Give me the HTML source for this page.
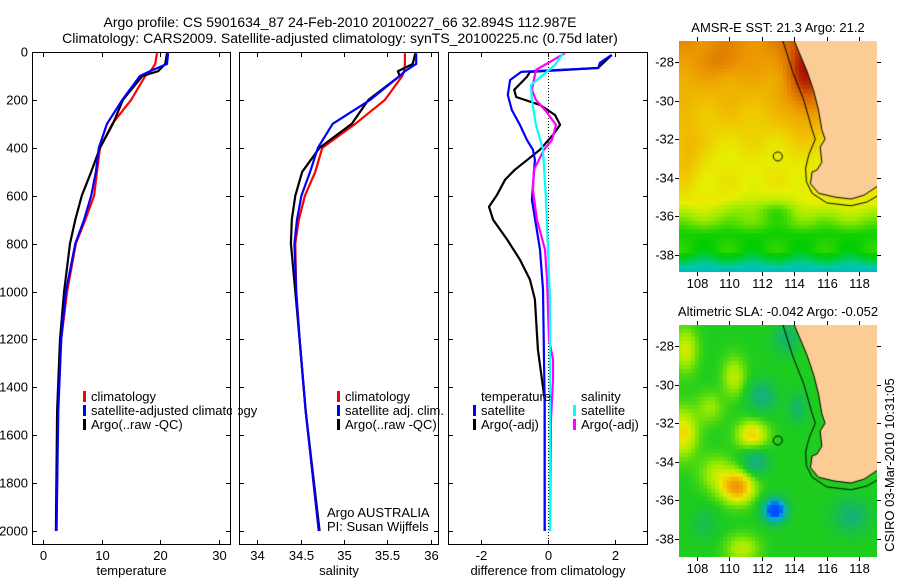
<!DOCTYPE html>
<html><head><meta charset="utf-8">
<style>
html,body{margin:0;padding:0;background:#fff;}
body{width:900px;height:580px;position:relative;overflow:hidden;font-family:"Liberation Sans",sans-serif;}
svg text{font-family:"Liberation Sans",sans-serif;font-size:13px;fill:#000;}
canvas{position:absolute;}
</style></head><body>
<svg id="fig" width="900" height="580" style="position:absolute;left:0;top:0">
<text x="340" y="27" text-anchor="middle" style="font-size:14px">Argo profile: CS 5901634_87 24-Feb-2010 20100227_66 32.894S 112.987E</text>
<text x="340" y="43" text-anchor="middle" style="font-size:14px">Climatology: CARS2009. Satellite-adjusted climatology: synTS_20100225.nc (0.75d later)</text>
<text x="778" y="32" text-anchor="middle">AMSR-E SST: 21.3 Argo: 21.2</text>
<text x="778" y="316" text-anchor="middle">Altimetric SLA: -0.042 Argo: -0.052</text>
<text transform="translate(894,465) rotate(-90)" text-anchor="middle">CSIRO 03-Mar-2010 10:31:05</text>
<text x="327" y="517">Argo AUSTRALIA</text>
<text x="327" y="531">PI: Susan Wijffels</text>
</svg>
<canvas id="c1" width="198" height="231" style="left:679px;top:41px"></canvas>
<canvas id="c2" width="198" height="232" style="left:679px;top:325px"></canvas>
<script>
// ---- profile data ----
const depths=[5,50,80,100,200,300,400,500,600,700,800,1000,1200,1500,2000];
const tempClim=[19.4,19.1,18.3,17.4,15.0,11.8,9.7,9.2,8.7,7.2,5.6,4.1,3.1,2.5,2.3];
const tempSat=[21.3,21.1,18.2,16.5,13.5,10.9,9.5,9.0,8.2,7.0,5.5,3.9,3.1,2.6,2.3];
const tempArgo=[21.1,20.8,19.6,16.9,13.6,11.9,9.7,8.2,6.6,5.5,4.6,3.6,2.9,2.4,2.2];
const salClim=[35.70,35.70,35.69,35.67,35.47,35.13,34.75,34.67,34.55,34.48,34.44,34.45,34.49,34.56,34.71];
const salSat=[35.83,35.83,35.70,35.64,35.30,34.87,34.70,34.61,34.51,34.46,34.43,34.45,34.49,34.56,34.71];
const salArgo=[35.82,35.79,35.62,35.64,35.28,35.09,34.72,34.52,34.44,34.40,34.39,34.44,34.49,34.56,34.72];
const dTSatDepth=[12,45,67,83,117,179,242,304,367,408,450,617,825,992,1450,2000];
const dTSat=[1.9,1.55,1.5,-0.8,-1.13,-1.2,-1.08,-0.84,-0.63,-0.45,-0.39,-0.48,-0.24,-0.15,-0.1,-0.1];
const dTArgoDepth=[12,67,83,104,158,188,221,263,304,346,408,492,533,596,646,700,783,867,950,1033,1242,1450,2000];
const dTArgo=[1.9,1.49,-0.54,-0.63,-1.01,-0.95,-0.24,0.21,0.36,0.15,-0.24,-0.99,-1.28,-1.52,-1.76,-1.64,-1.22,-0.84,-0.54,-0.39,-0.3,-0.1,-0.1];
const dSSatDepth=[5,54,138,200,304,408,617,825,1033,1450,2000];
const dSSat=[0.45,0.21,-0.51,-0.48,-0.36,-0.15,-0.06,0,0.06,0.06,0.06];
const dSArgoDepth=[5,75,158,200,242,304,367,408,492,575,700,825,950,1200,1283,1367,1533,2000];
const dSArgo=[0.51,-0.36,-0.48,-0.36,-0.09,0.24,0.12,-0.12,-0.42,-0.45,-0.33,-0.09,-0.03,0.03,0.15,0.15,0.09,0.06];
const depthTicks=[0,200,400,600,800,1000,1200,1400,1600,1800,2000];
const tempTicks=[0,10,20,30];
const salTicks=[34,34.5,35,35.5,36];
const diffTicks=[-2,0,2];

const NS='http://www.w3.org/2000/svg';
const svg=document.getElementById('fig');
function mk(tag,attrs,parent){const e=document.createElementNS(NS,tag);for(const k in attrs)e.setAttribute(k,attrs[k]);(parent||svg).appendChild(e);return e;}
const yTop=52,yBot=545;
function yD(d){return yTop+d*0.2395;}
const panels=[
 {name:'temperature',x0:32,x1:231,v0:-1.87,v1:32.0,ticks:tempTicks,label:'temperature',ylab:true},
 {name:'salinity',x0:239,x1:439,v0:33.793,v1:36.092,ticks:salTicks,label:'salinity'},
 {name:'difference',x0:448,x1:648,v0:-2.985,v1:2.985,ticks:diffTicks,label:'difference from climatology'}];
panels.forEach(p=>{
 p.sx=v=>p.x0+(v-p.v0)/(p.v1-p.v0)*(p.x1-p.x0);
 const g=mk('g',{});
 
 
 const r=mk('rect',{x:p.x0+.5,y:yTop+.5,width:p.x1-p.x0-1,height:yBot-yTop-1,fill:'none',stroke:'#000','stroke-width':1},g);
 
 
 p.ticks.forEach(t=>{const x=Math.round(p.sx(t))+.5;
  mk('line',{x1:x,x2:x,y1:yBot,y2:yBot-5,stroke:'#000'},g);
  mk('line',{x1:x,x2:x,y1:yTop,y2:yTop+5,stroke:'#000'},g);
  const tx=mk('text',{x:x,y:yBot+15,'text-anchor':'middle'},g);tx.textContent=t;
  
  });
 depthTicks.forEach(d=>{const y=Math.round(yD(d))+.5;
  mk('line',{x1:p.x0,x2:p.x0+5,y1:y,y2:y,stroke:'#000'},g);
  mk('line',{x1:p.x1-5,x2:p.x1,y1:y,y2:y,stroke:'#000'},g);
  if(p.ylab){const tx=mk('text',{x:p.x0-4,y:y+4,'text-anchor':'end'},g);tx.textContent=d;
   
   }});
 const xl=mk('text',{x:(p.x0+p.x1)/2,y:575,'text-anchor':'middle'},g);xl.textContent=p.label;
 
 
});
{const x=Math.round(panels[2].sx(0))+.5;const l=mk('line',{x1:x,x2:x,y1:yTop,y2:yBot,stroke:'#000','stroke-dasharray':'1,2'});
 
 }
function line(p,ds,vs,col,name){
 const pts=ds.map((d,i)=>p.sx(vs[i]).toFixed(1)+','+yD(d).toFixed(1)).join(' ');
 const pl=mk('polyline',{points:pts,fill:'none',stroke:col,'stroke-width':2.2,'stroke-linejoin':'round'});
 
 }
line(panels[0],depths,tempClim,'#f00','temp-climatology-line');
line(panels[0],depths,tempArgo,'#000','temp-argo-line');
line(panels[0],depths,tempSat,'#00f','temp-satellite-line');
line(panels[1],depths,salClim,'#f00','sal-climatology-line');
line(panels[1],depths,salArgo,'#000','sal-argo-line');
line(panels[1],depths,salSat,'#00f','sal-satellite-line');
line(panels[2],dTArgoDepth,dTArgo,'#000','diff-temp-argo-line');
line(panels[2],dTSatDepth,dTSat,'#00f','diff-temp-satellite-line');
line(panels[2],dSArgoDepth,dSArgo,'#f0f','diff-sal-argo-line');
line(panels[2],dSSatDepth,dSSat,'#0ff','diff-sal-satellite-line');
function leg(x,y,col,txt,name){
 if(col){const r=mk('rect',{x:x,y:y-10,width:3,height:11,fill:col});
  
  }
 const t=mk('text',{x:x+8,y:y});t.textContent=txt;
 
 }
leg(83,401,'#f00','climatology','legend-temp-climatology');
leg(83,415,'#00f','satellite-adjusted climatology','legend-temp-satellite');
leg(83,429,'#000','Argo(..raw -QC)','legend-temp-argo');
leg(337,401,'#f00','climatology','legend-sal-climatology');
leg(337,415,'#00f','satellite adj. clim.','legend-sal-satellite');
leg(337,429,'#000','Argo(..raw -QC)','legend-sal-argo');
leg(473,401,null,'temperature','legend-diff-temp-header');
leg(473,415,'#00f','satellite','legend-diff-temp-satellite');
leg(473,429,'#000','Argo(-adj)','legend-diff-temp-argo');
leg(573,401,null,'salinity','legend-diff-sal-header');
leg(573,415,'#0ff','satellite','legend-diff-sal-satellite');
leg(573,429,'#f0f','Argo(-adj)','legend-diff-sal-argo');
{const c=mk('rect',{x:232,y:404,width:6,height:14,fill:'#fff'});}

// ---- maps ----
const lonTicks=[108,110,112,114,116,118];
const latTicks=[-28,-30,-32,-34,-36,-38];
const land=[[114,-26.9],[114.3,-27.5],[114.8,-28.5],[115.2,-29.5],[115.5,-30.5],[115.7,-31.5],[115.9,-32],[115.6,-32.4],[115.7,-33.2],[115.4,-33.6],[115.1,-33.7],[115,-34.3],[115.5,-34.8],[116.5,-35],[117.5,-35.1],[118.3,-34.9],[119.2,-34.4],[119.2,-26.8]];
const isobath=[[113.3,-26.9],[113.9,-28.5],[114.6,-30],[115.1,-31.5],[115.3,-32],[114.9,-32.8],[114.7,-33.5],[114.75,-34.2],[115.1,-34.8],[116,-35.3],[117.5,-35.45],[118.5,-35.25],[119.2,-34.9]];
const argoLon=112.987, argoLat=-32.894;
const sstStops=[[17.5,[0,150,230]],[18.3,[0,200,170]],[19,[0,205,0]],[19.8,[150,235,0]],[20.5,[230,240,0]],[21.3,[240,195,0]],[22.3,[235,150,0]],[23.3,[210,95,0]],[24,[180,30,0]],[24.6,[160,0,0]]];
const slaStops=[[-0.3,[0,80,255]],[-0.2,[0,180,210]],[-0.1,[20,180,110]],[0,[30,205,30]],[0.07,[150,235,0]],[0.14,[235,235,0]],[0.25,[245,150,0]]];
function cmap(st,v){if(v<=st[0][0])return st[0][1];for(let i=1;i<st.length;i++){if(v<=st[i][0]){const a=st[i-1],b=st[i],t=(v-a[0])/(b[0]-a[0]);return a[1].map((c,k)=>Math.round(c+(b[1][k]-c)*t));}}return st[st.length-1][1];}
function g2(lon,lat,cx,cy,sx,sy){const a=(lon-cx)/sx,b=(lat-cy)/sy;return Math.exp(-(a*a+b*b));}
function sst(lon,lat){let t=20.6;if(lat>-33)t+=(lat+33)*0.3;
 t+=2.2*g2(lon,lat,114.8,-28.5,1.3,2.5)+0.9*g2(lon,lat,107.3,-32.8,1.0,1.5)+0.6*g2(lon,lat,109.5,-28,1.2,0.8)-0.7*g2(lon,lat,113,-35.6,1.4,0.7)-0.4*g2(lon,lat,111,-35.5,1.2,0.6);
 if(lat<-35.2)t-=Math.min(1.5,(-35.2-lat)*0.9)+Math.max(0,(-37.8-lat))*1.0;
 t+=0.15*Math.sin(lon*2.1)*Math.sin(lat*1.7);return t;}
function sla(lon,lat){return 0.25*g2(lon,lat,110.5,-35.3,1.0,0.8)+0.16*g2(lon,lat,107.1,-32.5,0.9,1.2)+0.17*g2(lon,lat,111.4,-32.6,0.9,0.7)+0.1*g2(lon,lat,110.3,-29.6,0.7,1.0)+0.12*g2(lon,lat,107.3,-28.2,0.7,1.1)+0.1*g2(lon,lat,110.8,-38.5,1.0,0.7)+0.09*g2(lon,lat,109.2,-34.6,1.0,0.9)+0.07*g2(lon,lat,108.8,-31.2,0.8,0.8)
 -0.38*g2(lon,lat,112.8,-36.5,0.7,0.6)-0.13*g2(lon,lat,111.6,-34,0.8,0.7)-0.12*g2(lon,lat,112,-30.6,0.9,0.8)-0.1*g2(lon,lat,113.5,-27.6,0.8,0.8)-0.11*g2(lon,lat,117.5,-36.8,1.1,0.9)-0.09*g2(lon,lat,114.2,-31.2,0.6,0.8)-0.06*g2(lon,lat,108.5,-37.2,0.8,0.8);}
function drawMap(id,top,lat28y,lat38y,field,stops,cell,name){
 const cv=document.getElementById(id),ctx=cv.getContext('2d');
 const W=cv.width,H=cv.height,lx=l=>(l-106.9)/(119.1-106.9)*W;
 const py=(lat38y-lat28y)/10, ly=l=>(lat28y-top)+(-28-l)*py;
 const lonOf=x=>106.9+x/W*12.2, latOf=y=>-28-(y-(lat28y-top))/py;
 for(let y=0;y<H;y+=cell)for(let x=0;x<W;x+=cell){const c=cmap(stops,field(lonOf(x+cell/2),latOf(y+cell/2)));ctx.fillStyle='rgb('+c.join(',')+')';ctx.fillRect(x,y,cell,cell);}
 ctx.fillStyle='#fccc96';ctx.beginPath();land.forEach((p,i)=>{i?ctx.lineTo(lx(p[0]),ly(p[1])):ctx.moveTo(lx(p[0]),ly(p[1]));});ctx.closePath();ctx.fill();
 ctx.strokeStyle='#000';ctx.lineWidth=1;ctx.beginPath();land.slice(0,-1).forEach((p,i)=>{i?ctx.lineTo(lx(p[0]),ly(p[1])):ctx.moveTo(lx(p[0]),ly(p[1]));});ctx.stroke();
 ctx.beginPath();isobath.forEach((p,i)=>{i?ctx.lineTo(lx(p[0]),ly(p[1])):ctx.moveTo(lx(p[0]),ly(p[1]));});ctx.stroke();
 ctx.beginPath();ctx.arc(lx(argoLon),ly(argoLat),4.5,0,Math.PI*2);ctx.stroke();
 const L=679,T=top,R=877,B=top+H;
 const fr=mk('rect',{x:L+.5,y:T+.5,width:R-L-1,height:H-1,fill:'none',stroke:'#000'});
 
 
 lonTicks.forEach(l=>{const x=Math.round(L+lx(l))+.5;mk('line',{x1:x,x2:x,y1:T-4,y2:T,stroke:'#000'});mk('line',{x1:x,x2:x,y1:B,y2:B+4,stroke:'#000'});
  const t=mk('text',{x:x,y:B+16,'text-anchor':'middle'});t.textContent=l;
  
  });
 latTicks.forEach(l=>{const y=Math.round(T+ly(l))+.5;mk('line',{x1:L-4,x2:L,y1:y,y2:y,stroke:'#000'});mk('line',{x1:R,x2:R+4,y1:y,y2:y,stroke:'#000'});
  const t=mk('text',{x:L-5,y:y+4,'text-anchor':'end'});t.textContent=l;
  
  });
}
drawMap('c1',41,62,255,sst,sstStops,4,'sst-map');
drawMap('c2',325,346,539,sla,slaStops,4,'sla-map');
</script>
</body></html>
